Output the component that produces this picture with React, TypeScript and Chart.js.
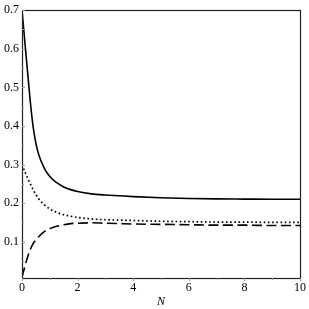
import React, { useEffect, useRef } from "react";
import { Chart, registerables } from "chart.js";

Chart.register(...registerables);

const N_VALUES = [0, 0.1, 0.2, 0.3, 0.4, 0.5, 0.6, 0.8, 1.0, 1.25, 1.5, 1.75, 2, 2.5, 3, 3.5, 4, 5, 6, 7, 8, 9, 10];
const SOLID = [0.70, 0.62, 0.54, 0.462, 0.398, 0.355, 0.326, 0.291, 0.269, 0.253, 0.242, 0.235, 0.230, 0.224, 0.221, 0.219, 0.217, 0.214, 0.212, 0.211, 0.2105, 0.210, 0.210];
const DOTTED = [0.30, 0.282, 0.265, 0.25, 0.235, 0.222, 0.211, 0.196, 0.185, 0.176, 0.170, 0.166, 0.163, 0.159, 0.157, 0.156, 0.155, 0.153, 0.152, 0.151, 0.151, 0.150, 0.150];
const DASHED = [0.008, 0.035, 0.06, 0.08, 0.095, 0.105, 0.113, 0.126, 0.134, 0.140, 0.144, 0.147, 0.148, 0.149, 0.148, 0.147, 0.146, 0.145, 0.144, 0.143, 0.143, 0.142, 0.142];

const X_TICKS = [0, 2, 4, 6, 8, 10];
const X_MINOR = [1, 3, 5, 7, 9];
const Y_TICKS = [0.1, 0.2, 0.3, 0.4, 0.5, 0.6, 0.7];
const Y_MINOR = [0.05, 0.15, 0.25, 0.35, 0.45, 0.55, 0.65];
const X_TITLE = "N";

const FONT = '"Liberation Serif", "Times New Roman", serif';

const toPoints = (ys: number[]) => N_VALUES.map((x, i) => ({ x, y: ys[i] }));

const framePlugin = {
  id: "frame",
  afterDraw(chart: any) {
    const { ctx, chartArea } = chart;
    const { left, top, right, bottom } = chartArea;
    const xs = chart.scales.x;
    const ys = chart.scales.y;
    ctx.save();
    ctx.strokeStyle = "#222";
    ctx.lineWidth = 1.2;
    ctx.strokeRect(Math.round(left) + 0.5, Math.round(top) + 0.5, Math.round(right - left), Math.round(bottom - top));
    ctx.strokeStyle = "#999";
    ctx.lineWidth = 1;
    ctx.beginPath();
    const drawX = (v: number, len: number) => {
      const px = Math.round(xs.getPixelForValue(v)) + 0.5;
      ctx.moveTo(px, bottom);
      ctx.lineTo(px, bottom + len);
    };
    const drawY = (v: number, len: number) => {
      const py = Math.round(ys.getPixelForValue(v)) + 0.5;
      ctx.moveTo(left, py);
      ctx.lineTo(left + len, py);
    };
    X_TICKS.forEach((v) => drawX(v, 3));
    X_MINOR.forEach((v) => drawX(v, 2));
    Y_TICKS.forEach((v) => drawY(v, 3));
    Y_MINOR.forEach((v) => drawY(v, 2));
    ctx.stroke();
    ctx.restore();
  },
};

export default function App() {
  const ref = useRef<HTMLCanvasElement | null>(null);
  useEffect(() => {
    if (!ref.current) return;
    const chart = new Chart(ref.current, {
      type: "line",
      data: {
        datasets: [
          {
            data: toPoints(SOLID),
            borderColor: "#000",
            borderWidth: 1.6,
            pointRadius: 0,
            cubicInterpolationMode: "monotone",
            fill: false,
          },
          {
            data: toPoints(DOTTED),
            borderColor: "#000",
            borderWidth: 1.7,
            borderDash: [1.6, 2.6],
            pointRadius: 0,
            cubicInterpolationMode: "monotone",
            fill: false,
          },
          {
            data: toPoints(DASHED),
            borderColor: "#000",
            borderWidth: 1.6,
            borderDash: [10, 4.5],
            pointRadius: 0,
            cubicInterpolationMode: "monotone",
            fill: false,
          },
        ],
      },
      options: {
        responsive: false,
        animation: false,
        devicePixelRatio: 1,
        layout: { padding: { left: 0, top: 9, right: 9, bottom: 0 } },
        plugins: { legend: { display: false }, tooltip: { enabled: false } },
        scales: {
          x: {
            type: "linear",
            min: 0,
            max: 10,
            afterBuildTicks: (s: any) => {
              s.ticks = X_TICKS.map((v) => ({ value: v }));
            },
            afterFit: (s: any) => {
              s.height = 31;
            },
            grid: { display: false, drawTicks: false },
            border: { display: false },
            ticks: {
              color: "#000",
              padding: 3,
              maxRotation: 0,
              font: { family: FONT, size: 12 },
              callback: (v: any) => String(v),
            },
            title: {
              display: true,
              text: X_TITLE,
              color: "#000",
              padding: { top: 0, bottom: 0 },
              font: { family: FONT, size: 12, style: "italic" },
            },
          },
          y: {
            type: "linear",
            min: 0.006,
            max: 0.7,
            afterBuildTicks: (s: any) => {
              s.ticks = Y_TICKS.map((v) => ({ value: v }));
            },
            afterFit: (s: any) => {
              s.width = 22;
            },
            grid: { display: false, drawTicks: false },
            border: { display: false },
            ticks: {
              color: "#000",
              padding: 3,
              font: { family: FONT, size: 12 },
              callback: (v: any) => Number(v).toFixed(1),
            },
          },
        },
      },
      plugins: [framePlugin],
    } as any);
    return () => chart.destroy();
  }, []);
  return (
    <div style={{ position: "fixed", left: 0, top: 0, width: 309, height: 309, background: "#fff" }}>
      <canvas ref={ref} width={309} height={309} style={{ width: 309, height: 309 }} />
    </div>
  );
}
